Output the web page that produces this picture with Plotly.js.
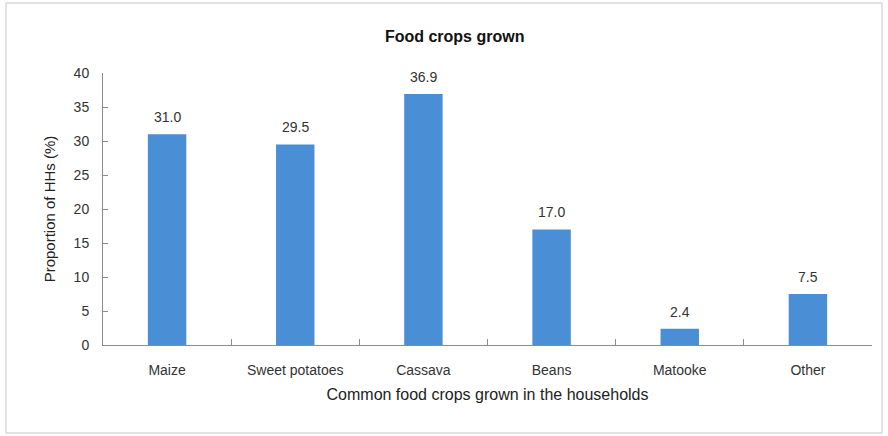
<!DOCTYPE html>
<html><head><meta charset="utf-8">
<script src="https://cdn.plot.ly/plotly-3.0.1.min.js"></script>
<style>body{margin:0;background:#fff}#c{width:888px;height:436px}</style>
</head><body><div id="c"></div>
<script>
const categories = ["Maize", "Sweet potatoes", "Cassava", "Beans", "Matooke", "Other"];
const values = [31.0, 29.5, 36.9, 17.0, 2.4, 7.5];
const yTicks = [0, 5, 10, 15, 20, 25, 30, 35, 40];

const F = "Liberation Sans, Arial, sans-serif";
const data = [{
  type: "bar", x: categories, y: values,
  marker: {color: "#4a8fd6"}, width: 0.3,
  hoverinfo: "none"
}];
const L = 103, R = 872, T = 73, B = 345;
const px = x => (x - L) / (R - L), py = y => (B - y) / (B - T);
const layout = {
  width: 888, height: 436,
  margin: {l: L, r: 888 - R, t: T, b: 436 - B},
  paper_bgcolor: "#fff", plot_bgcolor: "#fff",
  title: {text: "<b>Food crops grown</b>", font: {family: F, size: 16, color: "#111"}, x: 0.512, xanchor: "center", y: 1 - 36/436, yanchor: "middle"},
  showlegend: false,
  xaxis: {
    type: "category", showline: true, linecolor: "#8c8c8c", linewidth: 1,
    ticks: "inside", tickson: "boundaries", ticklen: 6, tickcolor: "#8c8c8c",
    tickfont: {family: F, size: 14, color: "#333"}, showgrid: false, ticklabelstandoff: 12,
    title: {text: "Common food crops grown in the households", font: {family: F, size: 16, color: "#222"}, standoff: 12}
  },
  yaxis: {
    range: [0, 40], tickvals: yTicks, showline: true, linecolor: "#8c8c8c", linewidth: 1,
    ticks: "inside", ticklen: 5, tickcolor: "#8c8c8c", showgrid: false, zeroline: false,
    tickfont: {family: F, size: 14, color: "#333"}, ticklabelstandoff: 10,
    title: {text: "Proportion of HHs (%)", font: {family: F, size: 15, color: "#222"}, standoff: 14}
  },
  bargap: 0.7,
  annotations: categories.map((c, i) => ({
    x: c, y: values[i], xref: "x", yref: "y", text: values[i].toFixed(1),
    showarrow: false, yanchor: "bottom", yshift: 7,
    font: {family: F, size: 14, color: "#333"}
  })),
  shapes: [{type: "rect", xref: "paper", yref: "paper", x0: px(6), x1: px(882), y0: py(433), y1: py(3), line: {color: "#d9d9d9", width: 1.5}, layer: "below"}]
};
Plotly.newPlot("c", data, layout, {displayModeBar: false, staticPlot: true});
</script></body></html>
